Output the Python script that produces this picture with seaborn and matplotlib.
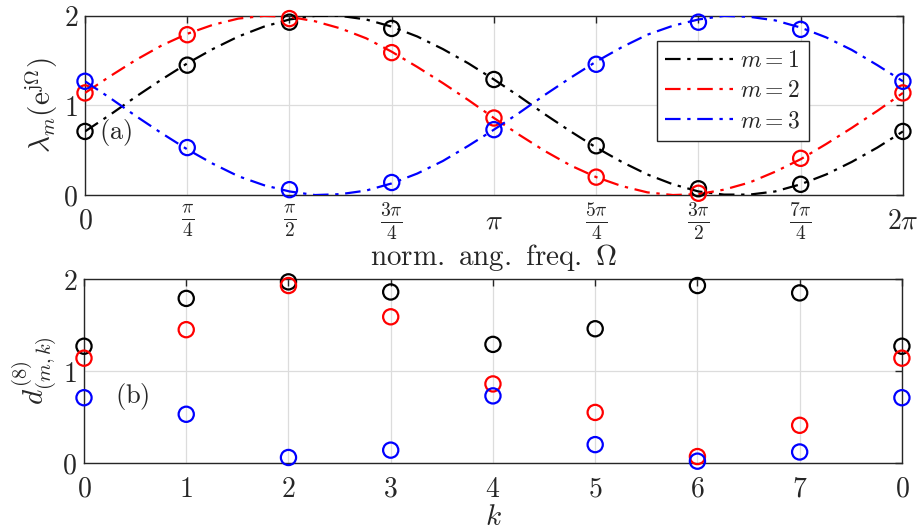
import numpy as np
import pandas as pd
import seaborn as sns
import matplotlib
matplotlib.use("Agg")
import matplotlib.pyplot as plt

# curve samples at Omega = j*pi/16, j = 0..32
j_idx = np.arange(33)
lam1 = [0.71, 0.90, 1.10, 1.29, 1.47, 1.63, 1.77, 1.88, 1.96, 2.00, 2.00,
        1.96, 1.88, 1.77, 1.63, 1.47, 1.29, 1.10, 0.90, 0.71, 0.53, 0.37,
        0.23, 0.12, 0.04, 0.005, 0.005, 0.04, 0.12, 0.23, 0.37, 0.53, 0.71]
lam2 = [1.14, 1.33, 1.51, 1.67, 1.80, 1.90, 1.97, 2.00, 1.99, 1.94, 1.86,
        1.75, 1.60, 1.43, 1.25, 1.06, 0.86, 0.67, 0.49, 0.33, 0.20, 0.10,
        0.03, 0.00, 0.01, 0.06, 0.14, 0.26, 0.40, 0.57, 0.75, 0.94, 1.14]
lam3 = [1.27, 1.08, 0.88, 0.69, 0.51, 0.35, 0.21, 0.11, 0.04, 0.00, 0.01,
        0.05, 0.13, 0.24, 0.38, 0.55, 0.73, 0.92, 1.12, 1.31, 1.49, 1.65,
        1.79, 1.89, 1.96, 2.00, 1.99, 1.95, 1.87, 1.76, 1.62, 1.45, 1.27]

# markers at Omega = k*pi/4
k_idx = np.arange(9)
mk1 = [0.71, 1.45, 1.93, 1.86, 1.29, 0.55, 0.07, 0.12, 0.71]
mk2 = [1.14, 1.79, 1.97, 1.59, 0.86, 0.20, 0.02, 0.41, 1.14]
mk3 = [1.27, 0.53, 0.06, 0.14, 0.73, 1.46, 1.93, 1.85, 1.27]

# bottom panel d^(8)_(m,k)
d1 = [1.27, 1.79, 1.97, 1.86, 1.29, 1.46, 1.93, 1.85, 1.27]
d2 = [1.14, 1.45, 1.93, 1.59, 0.86, 0.55, 0.07, 0.41, 1.14]
d3 = [0.71, 0.53, 0.06, 0.14, 0.73, 0.20, 0.02, 0.12, 0.71]
k_labels = ['0', '1', '2', '3', '4', '5', '6', '7', '0']

omega_labels = [r'$0$', r'$\frac{\pi}{4}$', r'$\frac{\pi}{2}$', r'$\frac{3\pi}{4}$',
                r'$\pi$', r'$\frac{5\pi}{4}$', r'$\frac{3\pi}{2}$',
                r'$\frac{7\pi}{4}$', r'$2\pi$']
names = [r'$m=1$', r'$m=2$', r'$m=3$']
colors = ['black', 'red', 'blue']

sns.set_style("white")
plt.rcParams['mathtext.fontset'] = 'cm'
plt.rcParams['font.family'] = ['DejaVu Serif']

omega = j_idx * np.pi / 16
omega_k = k_idx * np.pi / 4

fig = plt.figure(figsize=(9.19, 5.30), dpi=100)
ax1 = fig.add_axes([0.0925, 0.632, 0.890, 0.338])
ax2 = fig.add_axes([0.0914, 0.1264, 0.890, 0.347])


def style_axes(ax):
    ax.grid(True, color='#dcdcdc', linewidth=0.9)
    ax.set_axisbelow(True)
    for s in ax.spines.values():
        s.set_color('#262626')
        s.set_linewidth(1.0)
    ax.tick_params(direction='in', top=True, right=True, length=5,
                   width=1.0, color='#262626', labelsize=20)
    ax.tick_params(axis='y', pad=5)
    ax.tick_params(axis='x', pad=19)
    for lab in ax.get_xticklabels():
        lab.set_verticalalignment('center')


for lam, mk, c, n in zip([lam1, lam2, lam3], [mk1, mk2, mk3], colors, names):
    sns.lineplot(x=omega, y=lam, ax=ax1, color=c, linewidth=1.6,
                 label=n, zorder=3)
    ax1.lines[-1].set_dashes((7, 3, 1.5, 3))
    sns.scatterplot(x=omega_k, y=mk, ax=ax1, marker='o', s=120,
                    facecolor='none', edgecolor=c, linewidth=1.6,
                    zorder=4, clip_on=False)

ax1.set_xlim(0, 2 * np.pi)
ax1.set_ylim(0, 2)
ax1.set_xticks(omega_k)
ax1.set_xticklabels(omega_labels)
ax1.set_yticks([0, 1, 2])
ax1.set_yticklabels([r'$0$', r'$1$', r'$2$'])
style_axes(ax1)
ax1.set_xlabel(r'$\mathrm{norm.\ ang.\ freq.}\ \Omega$', fontsize=21, labelpad=0)
ax1.set_ylabel(r'$\lambda_m(\mathrm{e}^{\mathrm{j}\Omega})$', fontsize=21, labelpad=2)
ax1.text(0.11, 0.70, r'$\mathrm{(a)}$', fontsize=19, va='center', ha='left')
leg = ax1.legend(loc='upper right', bbox_to_anchor=(0.885, 0.86), fontsize=17,
                 frameon=True, fancybox=False, framealpha=1, edgecolor='#262626',
                 handlelength=2.9, borderpad=0.35, labelspacing=0.3,
                 handletextpad=0.3, borderaxespad=0)
leg.get_frame().set_linewidth(1.0)

for d, c in zip([d1, d2, d3], colors):
    sns.scatterplot(x=k_idx, y=d, ax=ax2, marker='o', s=120,
                    facecolor='none', edgecolor=c, linewidth=1.6,
                    zorder=4, clip_on=False)

ax2.set_xlim(0, 8)
ax2.set_ylim(0, 2)
ax2.set_xticks(k_idx)
ax2.set_xticklabels([rf'${t}$' for t in k_labels])
ax2.set_yticks([0, 1, 2])
ax2.set_yticklabels([r'$0$', r'$1$', r'$2$'])
style_axes(ax2)
ax2.set_xlabel(r'$k$', fontsize=21, labelpad=0)
ax2.set_ylabel(r'$d^{(8)}_{(m,k)}$', fontsize=21, labelpad=2)
ax2.text(0.3, 0.72, r'$\mathrm{(b)}$', fontsize=19, va='center', ha='left')

fig.savefig('out.png', dpi=100)
